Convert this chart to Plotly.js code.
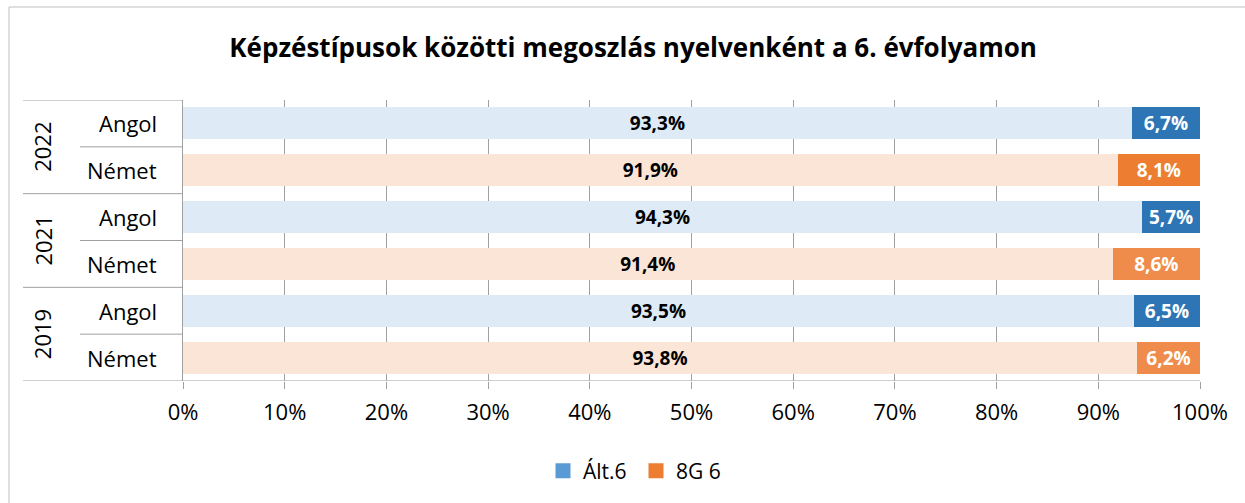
<!DOCTYPE html>
<html>
<head>
<meta charset="utf-8">
<script src="https://cdn.plot.ly/plotly-3.0.1.min.js"></script>
<style>
html,body{margin:0;padding:0;background:#fff;}
#chart{width:1245px;height:503px;}
</style>
</head>
<body>
<div id="chart"></div>
<script>
// ---- data ----
var years = ['2022', '2022', '2021', '2021', '2019', '2019'];
var languages = ['Angol', 'Német', 'Angol', 'Német', 'Angol', 'Német'];
var alt6 = [93.3, 91.9, 94.3, 91.4, 93.5, 93.8];
var g8 = [6.7, 8.1, 5.7, 8.6, 6.5, 6.2];
var seriesNames = ['Ált.6', '8G 6'];
var xTicks = [0, 10, 20, 30, 40, 50, 60, 70, 80, 90, 100];
var yearGroups = ['2022', '2021', '2019'];

// ---- styling ----
var FONT = 'Open Sans, sans-serif';
var altColors = ['#DEEBF7', '#FBE5D6', '#DEEBF7', '#FBE5D6', '#DEEBF7', '#FBE5D6'];
var g8Colors = ['#2E75B6', '#ED7D31', '#2E75B6', '#EF8C4B', '#2E75B6', '#EF8C4B'];
var legendColors = ['#5B9BD5', '#ED7D31'];
var lineColor = '#a0a0a0';

var W = 1245, H = 503, L = 183, R = 45, T = 100, B = 122;
var pw = W - L - R, ph = H - T - B;
function px2x(p) { return (p - L) / pw; }
function px2y(p) { return (H - B - p) / ph; }

var cats = years.map(function (y, i) { return y + ' ' + languages[i]; });
function fmt(v) { return v.toFixed(1).replace('.', ',') + '%'; }

var traces = [
  {
    type: 'bar', orientation: 'h', name: seriesNames[0], showlegend: false,
    y: cats, x: alt6, marker: { color: altColors },
    text: alt6.map(fmt), textposition: 'inside', insidetextanchor: 'middle',
    constraintext: 'none', textangle: 0,
    textfont: { family: FONT, size: 19, color: '#000', weight: 'bold' },
    hoverinfo: 'skip'
  },
  {
    type: 'bar', orientation: 'h', name: seriesNames[1], showlegend: false,
    y: cats, x: g8, marker: { color: g8Colors },
    text: g8.map(fmt), textposition: 'inside', insidetextanchor: 'middle',
    constraintext: 'none', textangle: 0,
    textfont: { family: FONT, size: 19, color: '#fff', weight: 'bold' },
    hoverinfo: 'skip'
  },
  {
    type: 'scatter', mode: 'markers', name: seriesNames[0], x: [null], y: [null],
    marker: { symbol: 'square', size: 15, color: legendColors[0] }, hoverinfo: 'skip'
  },
  {
    type: 'scatter', mode: 'markers', name: seriesNames[1], x: [null], y: [null],
    marker: { symbol: 'square', size: 15, color: legendColors[1] }, hoverinfo: 'skip'
  }
];

var shapes = [];
// outer chart border (left & top visible)
shapes.push({ type: 'rect', xref: 'paper', yref: 'paper', x0: px2x(9), x1: px2x(W + 20), y0: px2y(7), y1: px2y(H + 20), line: { color: '#bfbfbf', width: 1 } });
// category table lines
var xs = [px2x(23), px2x(80)];
for (var k = 0; k <= cats.length; k++) {
  var yv = k - 0.5;
  var x0 = (k % 2 === 0) ? xs[0] : xs[1];
  var x1 = (k === cats.length) ? 1 : 0;
  shapes.push({ type: 'line', xref: 'paper', yref: 'y', x0: x0, x1: x1, y0: yv, y1: yv, line: { color: lineColor, width: 1 } });
}

var annotations = [];
cats.forEach(function (c, i) {
  annotations.push({ xref: 'paper', yref: 'y', x: px2x(159), y: c, text: languages[i], showarrow: false, xanchor: 'right', yanchor: 'middle', font: { family: FONT, size: 22, color: '#000' } });
});
yearGroups.forEach(function (yr, g) {
  annotations.push({ xref: 'paper', yref: 'y', x: px2x(42), y: 2 * g + 0.5, text: yr, showarrow: false, textangle: -90, xanchor: 'center', yanchor: 'middle', font: { family: FONT, size: 22, color: '#000' } });
});

var layout = {
  width: W, height: H,
  margin: { l: L, r: R, t: T, b: B },
  paper_bgcolor: '#fff', plot_bgcolor: '#fff',
  barmode: 'stack', bargap: 0.315,
  title: { text: 'Képzéstípusok közötti megoszlás nyelvenként a 6. évfolyamon', x: 0.5085, xref: 'container', xanchor: 'center', y: 1 - 48 / H, yanchor: 'middle', font: { family: FONT, size: 26, color: '#000', weight: 'bold' } },
  xaxis: {
    range: [0, 100], tickvals: xTicks, ticktext: xTicks.map(function (v) { return v + '%'; }),
    showgrid: true, gridcolor: lineColor, gridwidth: 1, zeroline: false,
    showline: false, ticks: 'outside', ticklen: 7, tickcolor: lineColor, ticklabelstandoff: 5,
    tickfont: { family: FONT, size: 22, color: '#000' }, fixedrange: true
  },
  yaxis: {
    type: 'category', categoryorder: 'array', categoryarray: cats,
    range: [cats.length - 0.5, -0.5], showticklabels: false, ticks: '',
    showgrid: false, zeroline: false, showline: true, linecolor: lineColor, fixedrange: true
  },
  showlegend: true,
  legend: { orientation: 'h', traceorder: 'normal', x: px2x(636), xanchor: 'center', y: px2y(471), yanchor: 'middle', font: { family: FONT, size: 21, color: '#000' }, itemwidth: 30, entrywidth: 48, entrywidthmode: 'pixels', bgcolor: 'rgba(0,0,0,0)' },
  shapes: shapes,
  annotations: annotations,
  hovermode: false
};

Plotly.newPlot('chart', traces, layout, { displayModeBar: false, staticPlot: true });
</script>
</body>
</html>
